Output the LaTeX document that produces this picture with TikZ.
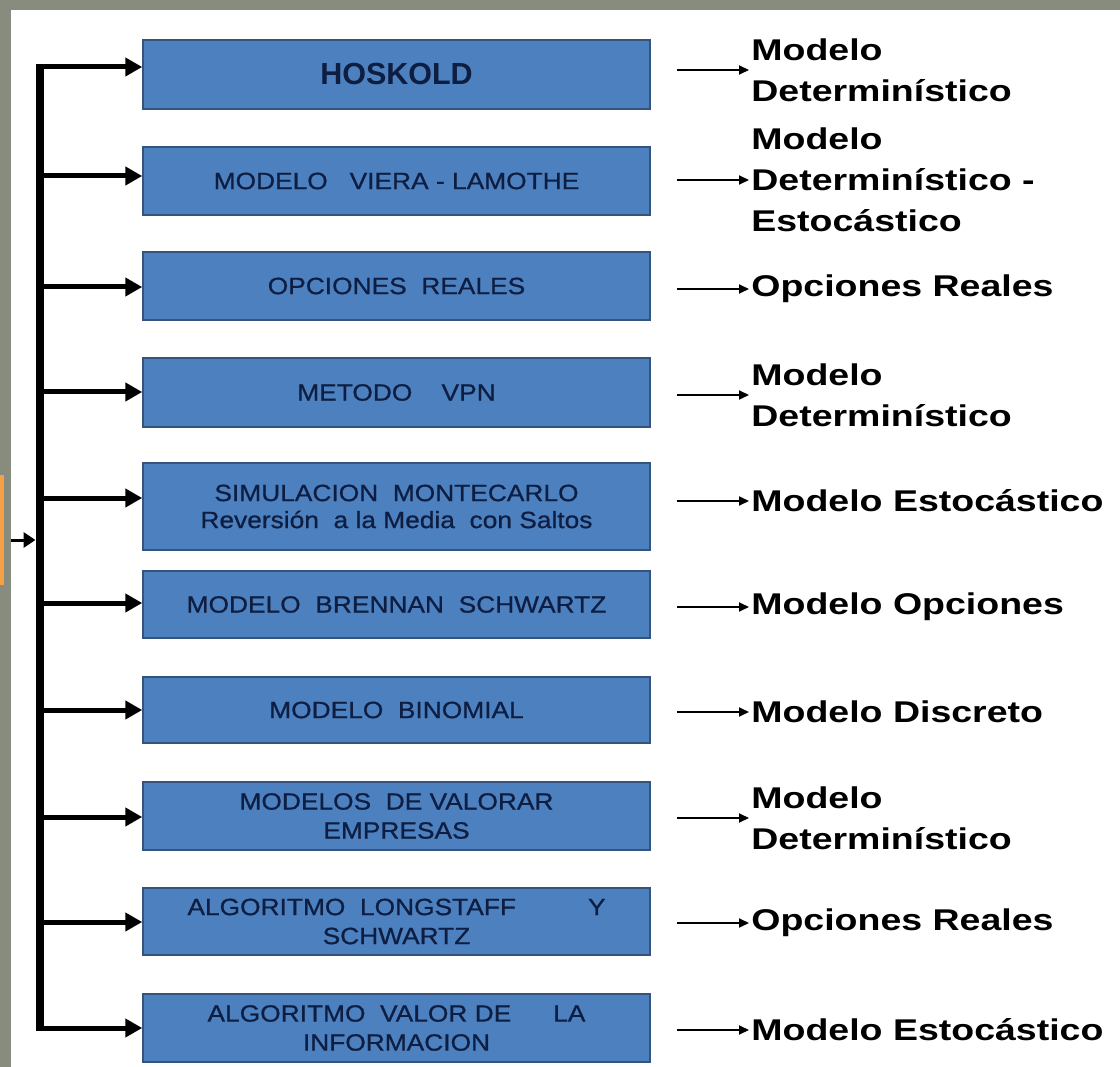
\documentclass[tikz,border=0pt]{standalone}
\usepackage{fontspec}
\setmainfont{Liberation Sans}
\newfontfamily\cajafont[FakeStretch=1.12,FakeBold=0.8]{Liberation Sans}
\newfontfamily\etiqfont[FakeStretch=1.25]{Liberation Sans}
\usetikzlibrary{arrows.meta}

\definecolor{marco}{RGB}{136,140,126}
\definecolor{cajafondo}{RGB}{76,128,190}
\definecolor{cajaborde}{RGB}{52,84,126}
\definecolor{cajatexto}{RGB}{14,30,66}
\definecolor{naranja}{RGB}{245,160,70}

\tikzset{every picture/.style={line width=0.75pt},
  caja/.style={draw=cajaborde, line width=1.5pt, fill=cajafondo, minimum width=507pt, minimum height=68pt, inner sep=0pt, align=center, text=cajatexto, font=\cajafont\fontsize{23.5}{29}\selectfont},
  etiqueta/.style={anchor=west, inner sep=2pt, align=left, font=\etiqfont\bfseries\fontsize{30}{41}\selectfont},
  tronco/.style={line width=8pt, shorten <=-2.5pt, shorten >=-2.5pt},
  rama/.style={line width=5pt, -{Triangle[length=17pt,width=18pt]}},
  salida/.style={line width=2pt, -{Triangle[length=10pt,width=9pt]}},
  entrada/.style={line width=3pt, -{Triangle[length=12pt,width=15pt]}}
}

\begin{document}
\begin{tikzpicture}[x=1pt,y=1pt,yscale=-1,xscale=1]
\useasboundingbox (0,0) rectangle (1120,1067);
%Shape: Rectangle (frame)
\fill[marco] (0,0) rectangle (1120,1067);
\fill[white] (11,10) rectangle (1120,1067);
%Shape: Rectangle (cut off at the left)
\draw (2,530) node [fill=naranja, minimum width=4pt, minimum height=110pt, inner sep=0pt] (src) {};

% Text Node
\draw (396.5,74.5) node [caja, minimum height=69pt, font=\fontsize{30.5}{36}\selectfont\bfseries] (b1) {HOSKOLD};
% Text Node
\draw (396.5,181) node [caja] (b2) {MODELO\ \ \ VIERA - LAMOTHE};
% Text Node
\draw (396.5,286) node [caja] (b3) {OPCIONES\ \ REALES};
% Text Node
\draw (396.5,392.5) node [caja, minimum height=69pt] (b4) {METODO\ \ \ \ VPN};
% Text Node
\draw (396.5,506.5) node [caja, minimum height=87pt, font=\cajafont\fontsize{23.5}{27}\selectfont] (b5) {SIMULACION\ \ MONTECARLO\\Reversión\ \ a la Media\ \ con Saltos};
% Text Node
\draw (396.5,604.5) node [caja, minimum height=67pt] (b6) {MODELO\ \ BRENNAN\ \ SCHWARTZ};
% Text Node
\draw (396.5,710) node [caja, minimum height=66pt] (b7) {MODELO\ \ BINOMIAL};
% Text Node
\draw (396.5,816) node [caja] (b8) {MODELOS\ \ DE VALORAR\\EMPRESAS};
% Text Node
\draw (396.5,921.5) node [caja, minimum height=67pt] (b9) {ALGORITMO\ \ LONGSTAFF\hspace{72pt}Y\\SCHWARTZ};
% Text Node
\draw (396.5,1028) node [caja] (b10) {ALGORITMO\ \ VALOR DE\hspace{42pt}LA\\INFORMACION};

% Text Node
\draw (749,70) node [etiqueta] (l1) {Modelo\\Determinístico};
% Text Node
\draw (749,180) node [etiqueta] (l2) {Modelo\\Determinístico -\\Estocástico};
% Text Node
\draw (749,289) node [etiqueta] (l3) {Opciones Reales};
% Text Node
\draw (749,395) node [etiqueta] (l4) {Modelo\\Determinístico};
% Text Node
\draw (749,501) node [etiqueta] (l5) {Modelo Estocástico};
% Text Node
\draw (749,607) node [etiqueta] (l6) {Modelo Opciones};
% Text Node
\draw (749,712) node [etiqueta] (l7) {Modelo Discreto};
% Text Node
\draw (749,818) node [etiqueta] (l8) {Modelo\\Determinístico};
% Text Node
\draw (749,923) node [etiqueta] (l9) {Opciones Reales};
% Text Node
\draw (749,1030) node [etiqueta] (l10) {Modelo Estocástico};

%Straight Lines (trunk)
\coordinate (t1) at (40,67);
\coordinate (t2) at (40,176);
\coordinate (t3) at (40,287);
\coordinate (t4) at (40,392);
\coordinate (t5) at (40,498);
\coordinate (t6) at (40,603);
\coordinate (t7) at (40,710);
\coordinate (t8) at (40,817);
\coordinate (t9) at (40,922);
\coordinate (t10) at (40,1028);
\draw [tronco] (t1) -- (t10);
%Straight Lines (incoming)
\coordinate (in) at (11,540);
\draw [entrada] (in) -- ([xshift=-4.5pt]in -| t1);

%Straight Lines (branches)
\draw [rama] (t1) -- (t1 -| b1.west);
\draw [rama] (t2) -- (t2 -| b2.west);
\draw [rama] (t3) -- (t3 -| b3.west);
\draw [rama] (t4) -- (t4 -| b4.west);
\draw [rama] (t5) -- (t5 -| b5.west);
\draw [rama] (t6) -- (t6 -| b6.west);
\draw [rama] (t7) -- (t7 -| b7.west);
\draw [rama] (t8) -- (t8 -| b8.west);
\draw [rama] (t9) -- (t9 -| b9.west);
\draw [rama] (t10) -- (t10 -| b10.west);

%Straight Lines (outputs)
\draw [salida] ([xshift=26pt]b1.east |- l1.west) -- (l1.west);
\draw [salida] ([xshift=26pt]b2.east |- l2.west) -- (l2.west);
\draw [salida] ([xshift=26pt]b3.east |- l3.west) -- (l3.west);
\draw [salida] ([xshift=26pt]b4.east |- l4.west) -- (l4.west);
\draw [salida] ([xshift=26pt]b5.east |- l5.west) -- (l5.west);
\draw [salida] ([xshift=26pt]b6.east |- l6.west) -- (l6.west);
\draw [salida] ([xshift=26pt]b7.east |- l7.west) -- (l7.west);
\draw [salida] ([xshift=26pt]b8.east |- l8.west) -- (l8.west);
\draw [salida] ([xshift=26pt]b9.east |- l9.west) -- (l9.west);
\draw [salida] ([xshift=26pt]b10.east |- l10.west) -- (l10.west);
\end{tikzpicture}
\end{document}
